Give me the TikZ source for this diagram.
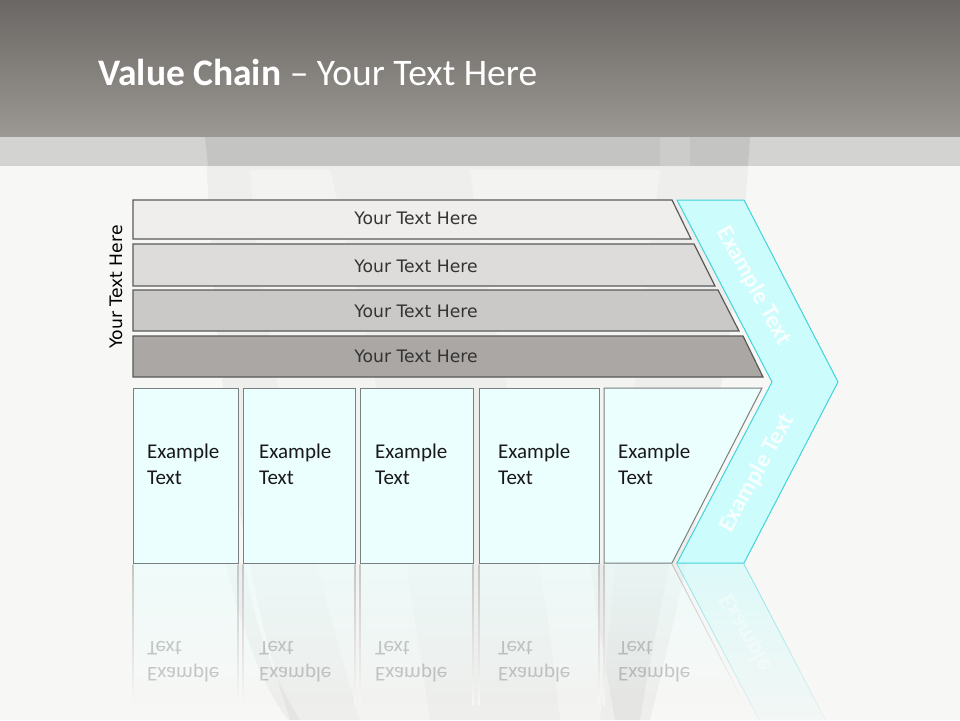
\documentclass[tikz,border=0pt]{standalone}
\usepackage{fontspec}
\setmainfont{Carlito}
\newfontfamily\verd{DejaVu Sans}
\usetikzlibrary{fadings}
\tikzfading[name=reflfade, top color=transparent!40, bottom color=transparent!100]
\definecolor{bgc}{HTML}{F7F7F5}
\definecolor{topA}{HTML}{6A6764}
\definecolor{topB}{HTML}{9C9994}
\definecolor{stripc}{HTML}{D3D3D1}
\definecolor{barline}{HTML}{5A5A5A}
\definecolor{barA}{HTML}{EFEEED}
\definecolor{barB}{HTML}{DDDCDB}
\definecolor{barC}{HTML}{CBC9C7}
\definecolor{barD}{HTML}{ABA7A4}
\definecolor{boxfill}{HTML}{EBFFFE}
\definecolor{boxline}{HTML}{7A7F7F}
\definecolor{chevfill}{HTML}{CCFCFC}
\definecolor{chevline}{HTML}{40D4DA}
\definecolor{bartext}{HTML}{333333}
\definecolor{refll}{HTML}{C4C6C6}
\begin{document}
\begin{tikzpicture}[x=1pt,y=-1pt,
  barshape/.style={draw=barline, line width=1.2pt, line join=miter},
  bartxt/.style={font=\verd\fontsize{17.2}{20}\selectfont, text=bartext, inner sep=0pt},
  boxshape/.style={draw=boxline, line width=1pt, fill=boxfill},
  boxtxt/.style={font=\fontsize{21}{26}\selectfont, text=black!90, align=left, anchor=north west, inner sep=0pt},
  chevtxt/.style={font=\bfseries\fontsize{24}{28}\selectfont, text=white, text opacity=0.85, inner sep=0pt},
  refltxt/.style={font=\fontsize{21}{26}\selectfont, text=black, text opacity=0.2, align=left, anchor=north west, inner sep=0pt, transform shape},
  reflbox/.style={fill=boxfill, path fading=reflfade},
  reflline/.style={top color=refll, bottom color=bgc}
]
\useasboundingbox (0,0) rectangle (960,720);
% background
\fill[bgc] (0,0) rectangle (960,720);
% faint bulb shapes in background
\fill[black, opacity=0.035] (205,137) .. controls (215,320) and (225,520) .. (290,720) -- (650,720) .. controls (700,520) and (740,320) .. (750,137) -- cycle;
\fill[white, opacity=0.3] (250,170) .. controls (260,330) and (300,520) .. (360,720) -- (430,720) .. controls (400,520) and (370,330) .. (330,170) -- cycle;
\fill[white, opacity=0.3] (470,170) .. controls (490,330) and (540,520) .. (560,720) -- (600,720) .. controls (620,520) and (640,330) .. (660,170) -- cycle;
\fill[black, opacity=0.035] (225,563) .. controls (245,640) and (265,690) .. (288,720) -- (300,720) .. controls (275,680) and (255,630) .. (245,563) -- cycle;
\fill[black, opacity=0.035] (590,563) .. controls (600,640) and (610,690) .. (615,720) -- (640,720) .. controls (650,660) and (660,610) .. (670,563) -- cycle;
% top banner
\shade[top color=topA, bottom color=topB] (0,0) rectangle (960,137);
\fill[stripc] (0,137) rectangle (960,166);
\fill[black, opacity=0.07] (205,137) -- (750,137) -- (748,166) -- (208,166) -- cycle;
\fill[white, opacity=0.15] (660,137) rectangle (690,166);
\node[anchor=base west, inner sep=0pt, text=white, font=\fontsize{37.5}{44}\selectfont] (title) at (98,85) {\textbf{Value Chain} – Your Text Here};

% reflections
\path[reflbox] (133,564) rectangle (238,705);
\path[reflbox] (243,564) rectangle (355,705);
\path[reflbox] (360,564) rectangle (473,705);
\path[reflbox] (479,564) rectangle (599,705);
\path[reflbox] (604,564) -- (672,564) -- (745,705) -- (604,705) -- cycle;
\path[fill=chevfill, path fading=reflfade] (677,564) -- (744,564) -- (838,744) -- (772,744) -- cycle;
\path[draw=chevline, line width=0.8pt, path fading=reflfade] (677,564) -- (772,744);
\path[draw=chevline, line width=0.8pt, path fading=reflfade] (744,564) -- (838,744);
\foreach \xx in {133,238,243,355,360,473,479,599,604}{
  \shade[reflline] (\xx-0.5,564) rectangle (\xx+0.5,705);
}
\path[draw=black!35, line width=1pt, path fading=reflfade] (672,564) -- (745,705);
\begin{scope}[cm={1,0,0,-1,(0pt,-1126pt)}]
  \node[refltxt] (r1) at (147,444) {Example\\Text};
  \node[refltxt] (r2) at (259,444) {Example\\Text};
  \node[refltxt] (r3) at (375,444) {Example\\Text};
  \node[refltxt] (r4) at (498,444) {Example\\Text};
  \node[refltxt] (r5) at (618,444) {Example\\Text};
\end{scope}
\begin{scope}
  \clip (680,563) rectangle (960,668);
  \begin{scope}[cm={1,0,0,-1,(0pt,-1126pt)}]
    \node[chevtxt, text opacity=0.4, rotate=61, transform shape] (rc) at (757,473) {Example Text};
  \end{scope}
\end{scope}

% bars
\path[barshape, fill=barA] (133,200) -- (672,200) -- (691,239) -- (133,239) -- cycle;
\path[barshape, fill=barB] (133,244) -- (694,244) -- (715,286) -- (133,286) -- cycle;
\path[barshape, fill=barC] (133,290) -- (718,290) -- (739,331) -- (133,331) -- cycle;
\path[barshape, fill=barD] (133,336) -- (743,336) -- (763,377) -- (133,377) -- cycle;
\node[bartxt] (b1) at (416,218) {Your Text Here};
\node[bartxt] (b2) at (416,266) {Your Text Here};
\node[bartxt] (b3) at (416,311) {Your Text Here};
\node[bartxt] (b4) at (416,356) {Your Text Here};
\node[bartxt, text=black, rotate=90] (side) at (116,287) {Your Text Here};

% chevron
\path[draw=chevline, line width=1pt, fill=chevfill] (677,200) -- (744,200) -- (838,382) -- (744,563) -- (677,563) -- (772,382) -- cycle;
\node[chevtxt, rotate=-61] (c1) at (754,286) {Example Text};
\node[chevtxt, rotate=61] (c2) at (757,473) {Example Text};

% boxes
\path[boxshape] (133,388) rectangle (238,563);
\path[boxshape] (243,388) rectangle (355,563);
\path[boxshape] (360,388) rectangle (473,563);
\path[boxshape] (479,388) rectangle (599,563);
\path[boxshape] (604,388) -- (762,388) -- (672,563) -- (604,563) -- cycle;
\node[boxtxt] (t1) at (147,444) {Example\\Text};
\node[boxtxt] (t2) at (259,444) {Example\\Text};
\node[boxtxt] (t3) at (375,444) {Example\\Text};
\node[boxtxt] (t4) at (498,444) {Example\\Text};
\node[boxtxt] (t5) at (618,444) {Example\\Text};
\end{tikzpicture}
\end{document}
